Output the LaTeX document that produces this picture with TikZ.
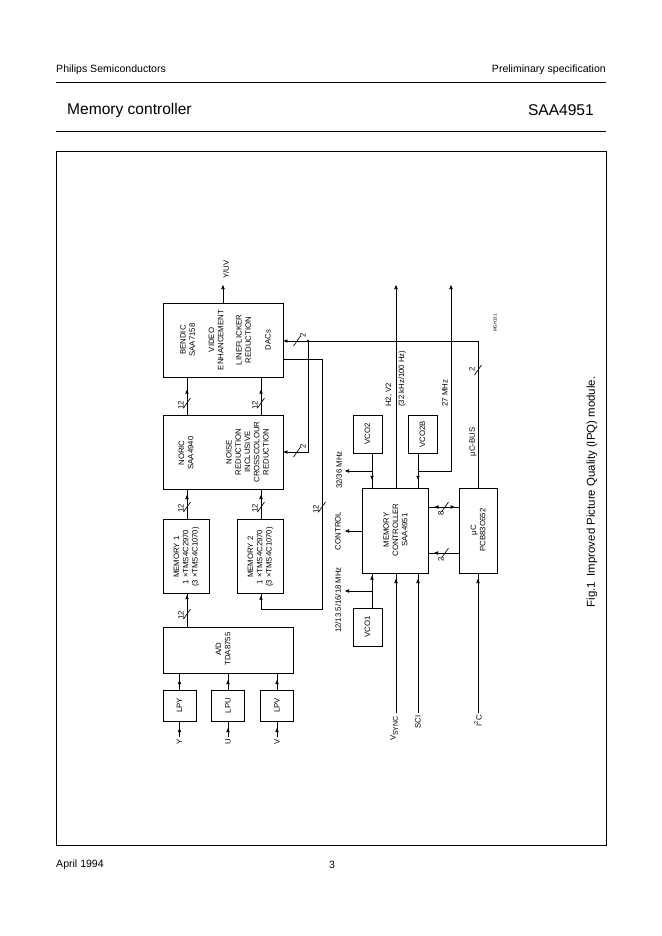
\documentclass[tikz,border=0pt]{standalone}
\usepackage{fontspec}
\setmainfont{Liberation Sans}
\usetikzlibrary{arrows.meta,decorations.markings}
\tikzset{
  box/.style={draw, line width=0.8pt, inner sep=0pt, fill=white},
  btxt/.style={rotate=90, align=center, font=\fontsize{7}{8.3}\selectfont, inner sep=0pt},
  lbl/.style={rotate=90, font=\fontsize{7}{8.3}\selectfont, inner sep=0pt},
  wire/.style={line width=0.6pt},
  tipend/.style={wire,-{Triangle[length=3.6pt,width=3pt]}},
  tipat/.style={wire,postaction={decorate},decoration={markings,mark=at position -#1 with {\arrow{Triangle[length=3.6pt,width=3pt]}}}},
  tipbi/.style={wire,postaction={decorate},decoration={markings,
     mark=at position 5.5pt with {\arrowreversed{Triangle[length=3.6pt,width=3pt]}},
     mark=at position -3.5pt with {\arrow{Triangle[length=3.6pt,width=3pt]}}}},
  busmark/.style={wire},
  hdr/.style={font=\fontsize{9.5}{11}\selectfont, inner sep=0pt},
  ttl/.style={font=\fontsize{14}{16}\selectfont, inner sep=0pt},
}
\begin{document}
\begin{tikzpicture}[x=0.9pt,y=-0.9pt]
\useasboundingbox (0,0) rectangle (662,936);
\fill[white] (0,0) rectangle (662,936);

% ---- page header / footer
\node[hdr, anchor=west] (hl) at (56,70) {Philips Semiconductors};
\node[hdr, anchor=east] (hr) at (606,70) {Preliminary specification};
\draw[line width=0.5pt] (56,82) -- (606,82);
\node[ttl, anchor=west] (tl) at (67,110) {Memory controller};
\node[ttl, anchor=east] (tr) at (594,110) {SAA4951};
\draw[line width=0.5pt] (56,131) -- (606,131);
\draw[line width=0.8pt] (56,151) rectangle (606,845);
\node[hdr, anchor=west] (fl) at (56,865) {April 1994};
\node[hdr] (fc) at (332,865) {3};

% ---- boxes
\node[box, minimum width=108pt, minimum height=66.6pt] (bendic) at (223,340) {};
\node[btxt] (bendicA) at (187.5,340) {BENDIC\\SAA7158};
\node[btxt] (bendicB) at (216,340) {VIDEO\\ENHANCEMENT};
\node[btxt] (bendicC) at (243.5,340) {LINEFLICKER\\REDUCTION};
\node[btxt] (bendicD) at (268,340) {DACs};

\node[box, minimum width=108pt, minimum height=66.6pt] (noric) at (223,452) {};
\node[btxt] (noricA) at (186,453) {NORIC\\SAA4940};
\node[btxt] (noricB) at (247.5,452) {NOISE\\REDUCTION\\INCLUSIVE\\CROSSCOLOUR\\REDUCTION};

\node[box, minimum width=41.4pt, minimum height=66.6pt] (mem1) at (186,556) {};
\node[btxt] (mem1t) at (186.5,557) {MEMORY 1\\1 ×TMS4C2970\\(3 ×TMS4C1070)};
\node[box, minimum width=41.4pt, minimum height=66.6pt] (mem2) at (260,556) {};
\node[btxt] (mem2t) at (260.5,557) {MEMORY 2\\1 ×TMS4C2970\\(3 ×TMS4C1070)};

\node[box, minimum width=117pt, minimum height=41.4pt] (ad) at (228,650) {};
\node[btxt] (adt) at (223,649) {A/D\\TDA8755};

\node[box, minimum width=29.7pt, minimum height=27.9pt] (lpy) at (179.5,705.5) {};
\node[btxt] (lpyt) at (179.5,705.5) {LPY};
\node[box, minimum width=29.7pt, minimum height=27.9pt] (lpu) at (228,705.5) {};
\node[btxt] (lput) at (228,705.5) {LPU};
\node[box, minimum width=29.7pt, minimum height=27.9pt] (lpv) at (277,705.5) {};
\node[btxt] (lpvt) at (277,705.5) {LPV};

\node[box, minimum width=26.1pt, minimum height=34.2pt] (vco2) at (367.5,434) {};
\node[btxt] (vco2t) at (367.5,434) {VCO2};
\node[box, minimum width=26.1pt, minimum height=34.2pt] (vco2b) at (422.5,434) {};
\node[btxt] (vco2bt) at (422.5,434) {VCO2B};
\node[box, minimum width=26.1pt, minimum height=34.2pt] (vco1) at (367.5,627) {};
\node[btxt] (vco1t) at (367.5,627) {VCO1};

\node[box, minimum width=59.4pt, minimum height=76.5pt] (mc) at (395,530.5) {};
\node[btxt] (mct) at (395.5,530) {MEMORY\\CONTROLLER\\SAA4951};
\node[box, minimum width=34.2pt, minimum height=76.5pt] (uc) at (478,530.5) {};
\node[btxt] (uct) at (478,530) {µC\\PCB83C652};

% ---- helper coordinates
\coordinate (xa) at (187,0);
\coordinate (xb) at (261,0);
\coordinate (xr) at (322,0);
\coordinate (xj) at (308,0);
\coordinate (xv) at (372,0);
\coordinate (xh) at (396,0);
\coordinate (xs) at (418,0);
\coordinate (ybus) at (0,341);
\coordinate (ynb) at (0,452);
\coordinate (ybr) at (0,359);
\coordinate (yr) at (0,609);
\coordinate (yclk) at (0,471);
\coordinate (y8) at (0,507);
\coordinate (y2) at (0,553);

% ---- video chain
\coordinate (yuv) at (223,285);
\draw[tipend] (bendic.north) -- (yuv);
\node[lbl, anchor=west] (yuvl) at (226,279) {Y/UV};

\draw[tipat=11pt] (xa |- noric.north) -- (xa |- bendic.south);
\draw[tipat=11pt] (xb |- noric.north) -- (xb |- bendic.south);
\draw[tipat=5pt] (xa |- mem1.north) -- (xa |- noric.south);
\draw[tipat=5pt] (xb |- mem2.north) -- (xb |- noric.south);
\draw[tipat=1.5pt] (xa |- ad.north) -- (xa |- mem1.south);

\draw[tipat=6pt] (lpy.north) -- (lpy.north |- ad.south);
\draw[tipat=6pt] (lpu.north) -- (lpu.north |- ad.south);
\draw[tipat=6pt] (lpv.north) -- (lpv.north |- ad.south);

\coordinate (iny) at (179.5,737);
\coordinate (inu) at (228,737);
\coordinate (inv) at (277,737);
\draw[tipat=6pt] (iny) -- (lpy.south);
\draw[tipat=6pt] (inu) -- (lpu.south);
\draw[tipat=6pt] (inv) -- (lpv.south);
\node[lbl] (iyl) at (179.5,741.5) {Y};
\node[lbl] (iul) at (228,741.5) {U};
\node[lbl] (ivl) at (277,741.5) {V};

% return path into memory 2
\draw[tipat=2pt] (bendic.east |- ybr) -| (xr |- yr) -| (xb |- mem2.south);

% 2-bit control bus
\draw[tipend] (uc.north) |- (bendic.east |- ybus);
\coordinate (junc) at (xj |- ybus);
\fill (junc) circle (1.3pt);
\draw[tipend] (junc) |- (noric.east |- ynb);

% ---- bus width marks
\draw[busmark, shift={(187,403)}] (-3.5,5) -- (3.5,-5);
\node[lbl] (w1) at (181,405) {12};
\draw[busmark, shift={(261,403)}] (-3.5,5) -- (3.5,-5);
\node[lbl] (w2) at (255,405) {12};
\draw[busmark, shift={(187,507)}] (-3.5,5) -- (3.5,-5);
\node[lbl] (w3) at (181,508) {12};
\draw[busmark, shift={(261,507)}] (-3.5,5) -- (3.5,-5);
\node[lbl] (w4) at (255,508) {12};
\draw[busmark, shift={(187,614)}] (-3.5,5) -- (3.5,-5);
\node[lbl] (w5) at (181,615) {12};
\draw[busmark, shift={(322,507)}] (-3.5,5) -- (3.5,-5);
\node[lbl] (w6) at (316,509) {12};
\draw[busmark, shift={(297,341)}] (-3.5,5) -- (3.5,-5);
\node[lbl] (w7) at (303,335) {2};
\draw[busmark, shift={(297,452)}] (-3.5,5) -- (3.5,-5);
\node[lbl] (w8) at (303,446) {2};
\draw[busmark, shift={(478,370)}] (-3.5,5) -- (3.5,-5);
\node[lbl] (w9) at (472,369) {2};
\draw[busmark, shift={(445,507)}] (-3.5,5) -- (3.5,-5);
\node[lbl] (w10) at (441,513) {8};
\draw[busmark, shift={(445,553)}] (-3.5,5) -- (3.5,-5);
\node[lbl] (w11) at (441,559) {2};

% ---- clocks and memory controller
\draw[tipat=7pt] (xv |- vco2.south) -- (xv |- mc.north);
\coordinate (o3236) at (345,471);
\draw[tipend] (xv |- yclk) -- (o3236);
\node[lbl] (l3236) at (339,470) {32/36 MHz};

\draw[tipat=7pt] (xs |- vco2b.south) -- (xs |- mc.north);
\coordinate (o27) at (451,285);
\draw[tipend] (xs |- yclk) -| (o27);
\node[lbl, anchor=west] (l27) at (445,407) {27 MHz};

\coordinate (oh2) at (396,285);
\draw[tipend] (xh |- mc.north) -- (oh2);
\node[lbl, anchor=west] (lh2) at (389,407) {H2, V2};
\node[lbl, anchor=west] (lh2b) at (402,407) {(32 kHz/100 Hz)};

\draw[tipat=2pt] (xv |- vco1.north) -- (xv |- mc.south);
\coordinate (o12) at (345,591);
\draw[tipend] (xv |- o12) -- (o12);
\node[lbl] (l12) at (338,600) {12/13.5/16/18 MHz};

\coordinate (octl) at (345,531);
\draw[tipend] (mc.west |- octl) -- (octl);
\node[lbl] (lctl) at (338,531) {CONTROL};

\coordinate (ivs) at (396,713);
\coordinate (isci) at (418,713);
\coordinate (iic) at (478,713);
\draw[tipat=5pt] (ivs) -- (ivs |- mc.south);
\draw[tipat=5pt] (isci) -- (isci |- mc.south);
\draw[tipat=5pt] (iic) -- (uc.south);
\node[lbl, anchor=east] (lvs) at (394,716) {V\raisebox{-2pt}{\fontsize{6.3}{7}\selectfont SYNC}};
\node[lbl, anchor=east] (lsci) at (418,715) {SCI};
\node[lbl, anchor=east] (lic) at (478,715) {I\textsuperscript{2}C};

\draw[tipbi] (mc.east |- y8) -- (uc.west |- y8);
\draw[tipat=5pt] (uc.west |- y2) -- (mc.east |- y2);

\node[lbl] (lucbus) at (473,442) {µC-BUS};
\node[rotate=90, font=\fontsize{4}{5}\selectfont, inner sep=0pt] (code) at (495,323) {MGH131};

\node[rotate=90, font=\fontsize{10.3}{12}\selectfont, inner sep=0pt] (cap) at (592,492) {Fig.1\enspace Improved Picture Quality (IPQ) module.};
\end{tikzpicture}
\end{document}
